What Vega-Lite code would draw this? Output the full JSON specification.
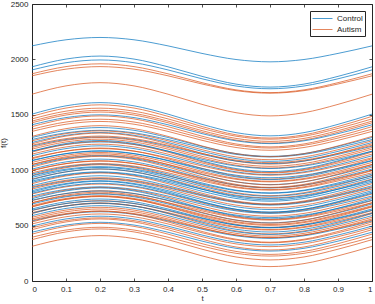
{
"$schema":"https://vega.github.io/schema/vega-lite/v6.json",
"width":340,"height":277,
"autosize":{"type":"none"},
"padding":{"left":32,"top":4,"right":3,"bottom":23},
"background":"white",
"config":{"view":{"stroke":"#262626","strokeWidth":1},"font":"Liberation Sans",
"axis":{"domain":false,"grid":false,"tickSize":-3,"tickColor":"#262626","tickWidth":0.8,"labelColor":"#262626","labelFontSize":8,"labelFont":"Liberation Sans","titleFont":"Liberation Sans","titleFontSize":8,"titleFontWeight":"normal","titleColor":"#262626"}},
"datasets":{
"curves":[{"i":1,"g":"Control"},{"i":2,"g":"Control"},{"i":3,"g":"Control"},{"i":4,"g":"Autism"},{"i":5,"g":"Autism"},{"i":6,"g":"Autism"},{"i":7,"g":"Control"},{"i":8,"g":"Autism"},{"i":9,"g":"Autism"},{"i":10,"g":"Autism"},{"i":11,"g":"Autism"},{"i":12,"g":"Control"},{"i":13,"g":"Autism"},{"i":14,"g":"Autism"},{"i":15,"g":"Autism"},{"i":16,"g":"Control"},{"i":17,"g":"Control"},{"i":18,"g":"Autism"},{"i":19,"g":"Control"},{"i":20,"g":"Autism"},{"i":21,"g":"Control"},{"i":22,"g":"Autism"},{"i":23,"g":"Autism"},{"i":24,"g":"Control"},{"i":25,"g":"Autism"},{"i":26,"g":"Autism"},{"i":27,"g":"Control"},{"i":28,"g":"Autism"},{"i":29,"g":"Autism"},{"i":30,"g":"Control"},{"i":31,"g":"Autism"},{"i":32,"g":"Autism"},{"i":33,"g":"Control"},{"i":34,"g":"Autism"},{"i":35,"g":"Control"},{"i":36,"g":"Autism"},{"i":37,"g":"Autism"},{"i":38,"g":"Control"},{"i":39,"g":"Autism"},{"i":40,"g":"Control"},{"i":41,"g":"Autism"},{"i":42,"g":"Control"},{"i":43,"g":"Control"},{"i":44,"g":"Autism"},{"i":45,"g":"Control"},{"i":46,"g":"Control"},{"i":47,"g":"Autism"},{"i":48,"g":"Control"},{"i":49,"g":"Control"},{"i":50,"g":"Autism"},{"i":51,"g":"Control"},{"i":52,"g":"Autism"},{"i":53,"g":"Control"},{"i":54,"g":"Autism"},{"i":55,"g":"Autism"},{"i":56,"g":"Control"},{"i":57,"g":"Autism"},{"i":58,"g":"Autism"},{"i":59,"g":"Control"},{"i":60,"g":"Autism"},{"i":61,"g":"Autism"},{"i":62,"g":"Autism"},{"i":63,"g":"Control"},{"i":64,"g":"Autism"},{"i":65,"g":"Autism"},{"i":66,"g":"Control"},{"i":67,"g":"Autism"},{"i":68,"g":"Autism"},{"i":69,"g":"Control"},{"i":70,"g":"Autism"},{"i":71,"g":"Autism"},{"i":72,"g":"Control"},{"i":73,"g":"Autism"},{"i":74,"g":"Autism"},{"i":75,"g":"Autism"},{"i":76,"g":"Autism"},{"i":77,"g":"Autism"},{"i":78,"g":"Control"},{"i":79,"g":"Control"},{"i":80,"g":"Autism"},{"i":81,"g":"Control"},{"i":82,"g":"Autism"},{"i":83,"g":"Control"},{"i":84,"g":"Control"},{"i":85,"g":"Autism"},{"i":86,"g":"Control"},{"i":87,"g":"Autism"},{"i":88,"g":"Autism"},{"i":89,"g":"Autism"},{"i":90,"g":"Control"},{"i":91,"g":"Autism"},{"i":92,"g":"Control"}],
"points":[
{"i":1,"t":0,"y":2122},{"i":1,"t":0.1,"y":2177},{"i":1,"t":0.2,"y":2198},{"i":1,"t":0.3,"y":2177},{"i":1,"t":0.4,"y":2122},{"i":1,"t":0.5,"y":2054},{"i":1,"t":0.6,"y":1999},{"i":1,"t":0.7,"y":1978},{"i":1,"t":0.8,"y":1999},{"i":1,"t":0.9,"y":2054},{"i":1,"t":1,"y":2122},
{"i":2,"t":0,"y":1933},{"i":2,"t":0.1,"y":2003},{"i":2,"t":0.2,"y":2030},{"i":2,"t":0.3,"y":2003},{"i":2,"t":0.4,"y":1933},{"i":2,"t":0.5,"y":1847},{"i":2,"t":0.6,"y":1777},{"i":2,"t":0.7,"y":1750},{"i":2,"t":0.8,"y":1777},{"i":2,"t":0.9,"y":1847},{"i":2,"t":1,"y":1933},
{"i":3,"t":0,"y":1905},{"i":3,"t":0.1,"y":1970},{"i":3,"t":0.2,"y":1995},{"i":3,"t":0.3,"y":1970},{"i":3,"t":0.4,"y":1905},{"i":3,"t":0.5,"y":1825},{"i":3,"t":0.6,"y":1760},{"i":3,"t":0.7,"y":1735},{"i":3,"t":0.8,"y":1760},{"i":3,"t":0.9,"y":1825},{"i":3,"t":1,"y":1905},
{"i":4,"t":0,"y":1870},{"i":4,"t":0.1,"y":1935},{"i":4,"t":0.2,"y":1960},{"i":4,"t":0.3,"y":1935},{"i":4,"t":0.4,"y":1870},{"i":4,"t":0.5,"y":1790},{"i":4,"t":0.6,"y":1725},{"i":4,"t":0.7,"y":1700},{"i":4,"t":0.8,"y":1725},{"i":4,"t":0.9,"y":1790},{"i":4,"t":1,"y":1870},
{"i":5,"t":0,"y":1852},{"i":5,"t":0.1,"y":1912},{"i":5,"t":0.2,"y":1935},{"i":5,"t":0.3,"y":1912},{"i":5,"t":0.4,"y":1852},{"i":5,"t":0.5,"y":1778},{"i":5,"t":0.6,"y":1718},{"i":5,"t":0.7,"y":1695},{"i":5,"t":0.8,"y":1718},{"i":5,"t":0.9,"y":1778},{"i":5,"t":1,"y":1852},
{"i":6,"t":0,"y":1686},{"i":6,"t":0.1,"y":1761},{"i":6,"t":0.2,"y":1790},{"i":6,"t":0.3,"y":1761},{"i":6,"t":0.4,"y":1686},{"i":6,"t":0.5,"y":1594},{"i":6,"t":0.6,"y":1519},{"i":6,"t":0.7,"y":1490},{"i":6,"t":0.8,"y":1519},{"i":6,"t":0.9,"y":1594},{"i":6,"t":1,"y":1686},
{"i":7,"t":0,"y":1506},{"i":7,"t":0.1,"y":1581},{"i":7,"t":0.2,"y":1610},{"i":7,"t":0.3,"y":1581},{"i":7,"t":0.4,"y":1506},{"i":7,"t":0.5,"y":1414},{"i":7,"t":0.6,"y":1339},{"i":7,"t":0.7,"y":1310},{"i":7,"t":0.8,"y":1339},{"i":7,"t":0.9,"y":1414},{"i":7,"t":1,"y":1506},
{"i":8,"t":0,"y":1486},{"i":8,"t":0.1,"y":1561},{"i":8,"t":0.2,"y":1590},{"i":8,"t":0.3,"y":1561},{"i":8,"t":0.4,"y":1486},{"i":8,"t":0.5,"y":1394},{"i":8,"t":0.6,"y":1319},{"i":8,"t":0.7,"y":1290},{"i":8,"t":0.8,"y":1319},{"i":8,"t":0.9,"y":1394},{"i":8,"t":1,"y":1486},
{"i":9,"t":0,"y":1463},{"i":9,"t":0.1,"y":1533},{"i":9,"t":0.2,"y":1560},{"i":9,"t":0.3,"y":1533},{"i":9,"t":0.4,"y":1463},{"i":9,"t":0.5,"y":1377},{"i":9,"t":0.6,"y":1307},{"i":9,"t":0.7,"y":1280},{"i":9,"t":0.8,"y":1307},{"i":9,"t":0.9,"y":1377},{"i":9,"t":1,"y":1463},
{"i":10,"t":0,"y":1443},{"i":10,"t":0.1,"y":1513},{"i":10,"t":0.2,"y":1540},{"i":10,"t":0.3,"y":1513},{"i":10,"t":0.4,"y":1443},{"i":10,"t":0.5,"y":1357},{"i":10,"t":0.6,"y":1287},{"i":10,"t":0.7,"y":1260},{"i":10,"t":0.8,"y":1287},{"i":10,"t":0.9,"y":1357},{"i":10,"t":1,"y":1443},
{"i":11,"t":0,"y":1428},{"i":11,"t":0.1,"y":1498},{"i":11,"t":0.2,"y":1525},{"i":11,"t":0.3,"y":1498},{"i":11,"t":0.4,"y":1428},{"i":11,"t":0.5,"y":1342},{"i":11,"t":0.6,"y":1272},{"i":11,"t":0.7,"y":1245},{"i":11,"t":0.8,"y":1272},{"i":11,"t":0.9,"y":1342},{"i":11,"t":1,"y":1428},
{"i":12,"t":0,"y":1410},{"i":12,"t":0.1,"y":1475},{"i":12,"t":0.2,"y":1500},{"i":12,"t":0.3,"y":1475},{"i":12,"t":0.4,"y":1410},{"i":12,"t":0.5,"y":1330},{"i":12,"t":0.6,"y":1265},{"i":12,"t":0.7,"y":1240},{"i":12,"t":0.8,"y":1265},{"i":12,"t":0.9,"y":1330},{"i":12,"t":1,"y":1410},
{"i":13,"t":0,"y":1393},{"i":13,"t":0.1,"y":1463},{"i":13,"t":0.2,"y":1490},{"i":13,"t":0.3,"y":1463},{"i":13,"t":0.4,"y":1393},{"i":13,"t":0.5,"y":1307},{"i":13,"t":0.6,"y":1237},{"i":13,"t":0.7,"y":1210},{"i":13,"t":0.8,"y":1237},{"i":13,"t":0.9,"y":1307},{"i":13,"t":1,"y":1393},
{"i":14,"t":0,"y":1370},{"i":14,"t":0.1,"y":1435},{"i":14,"t":0.2,"y":1460},{"i":14,"t":0.3,"y":1435},{"i":14,"t":0.4,"y":1370},{"i":14,"t":0.5,"y":1290},{"i":14,"t":0.6,"y":1225},{"i":14,"t":0.7,"y":1200},{"i":14,"t":0.8,"y":1225},{"i":14,"t":0.9,"y":1290},{"i":14,"t":1,"y":1370},
{"i":15,"t":0,"y":1350},{"i":15,"t":0.1,"y":1415},{"i":15,"t":0.2,"y":1440},{"i":15,"t":0.3,"y":1415},{"i":15,"t":0.4,"y":1350},{"i":15,"t":0.5,"y":1270},{"i":15,"t":0.6,"y":1205},{"i":15,"t":0.7,"y":1180},{"i":15,"t":0.8,"y":1205},{"i":15,"t":0.9,"y":1270},{"i":15,"t":1,"y":1350},
{"i":16,"t":0,"y":1295},{"i":16,"t":0.1,"y":1360},{"i":16,"t":0.2,"y":1385},{"i":16,"t":0.3,"y":1360},{"i":16,"t":0.4,"y":1295},{"i":16,"t":0.5,"y":1215},{"i":16,"t":0.6,"y":1150},{"i":16,"t":0.7,"y":1125},{"i":16,"t":0.8,"y":1150},{"i":16,"t":0.9,"y":1215},{"i":16,"t":1,"y":1295},
{"i":17,"t":0,"y":1277},{"i":17,"t":0.1,"y":1337},{"i":17,"t":0.2,"y":1360},{"i":17,"t":0.3,"y":1337},{"i":17,"t":0.4,"y":1277},{"i":17,"t":0.5,"y":1203},{"i":17,"t":0.6,"y":1143},{"i":17,"t":0.7,"y":1120},{"i":17,"t":0.8,"y":1143},{"i":17,"t":0.9,"y":1203},{"i":17,"t":1,"y":1277},
{"i":18,"t":0,"y":1265},{"i":18,"t":0.1,"y":1330},{"i":18,"t":0.2,"y":1355},{"i":18,"t":0.3,"y":1330},{"i":18,"t":0.4,"y":1265},{"i":18,"t":0.5,"y":1185},{"i":18,"t":0.6,"y":1120},{"i":18,"t":0.7,"y":1095},{"i":18,"t":0.8,"y":1120},{"i":18,"t":0.9,"y":1185},{"i":18,"t":1,"y":1265},
{"i":19,"t":0,"y":1250},{"i":19,"t":0.1,"y":1315},{"i":19,"t":0.2,"y":1340},{"i":19,"t":0.3,"y":1315},{"i":19,"t":0.4,"y":1250},{"i":19,"t":0.5,"y":1170},{"i":19,"t":0.6,"y":1105},{"i":19,"t":0.7,"y":1080},{"i":19,"t":0.8,"y":1105},{"i":19,"t":0.9,"y":1170},{"i":19,"t":1,"y":1250},
{"i":20,"t":0,"y":1238},{"i":20,"t":0.1,"y":1308},{"i":20,"t":0.2,"y":1335},{"i":20,"t":0.3,"y":1308},{"i":20,"t":0.4,"y":1238},{"i":20,"t":0.5,"y":1152},{"i":20,"t":0.6,"y":1082},{"i":20,"t":0.7,"y":1055},{"i":20,"t":0.8,"y":1082},{"i":20,"t":0.9,"y":1152},{"i":20,"t":1,"y":1238},
{"i":21,"t":0,"y":1217},{"i":21,"t":0.1,"y":1277},{"i":21,"t":0.2,"y":1300},{"i":21,"t":0.3,"y":1277},{"i":21,"t":0.4,"y":1217},{"i":21,"t":0.5,"y":1143},{"i":21,"t":0.6,"y":1083},{"i":21,"t":0.7,"y":1060},{"i":21,"t":0.8,"y":1083},{"i":21,"t":0.9,"y":1143},{"i":21,"t":1,"y":1217},
{"i":22,"t":0,"y":1205},{"i":22,"t":0.1,"y":1270},{"i":22,"t":0.2,"y":1295},{"i":22,"t":0.3,"y":1270},{"i":22,"t":0.4,"y":1205},{"i":22,"t":0.5,"y":1125},{"i":22,"t":0.6,"y":1060},{"i":22,"t":0.7,"y":1035},{"i":22,"t":0.8,"y":1060},{"i":22,"t":0.9,"y":1125},{"i":22,"t":1,"y":1205},
{"i":23,"t":0,"y":1190},{"i":23,"t":0.1,"y":1255},{"i":23,"t":0.2,"y":1280},{"i":23,"t":0.3,"y":1255},{"i":23,"t":0.4,"y":1190},{"i":23,"t":0.5,"y":1110},{"i":23,"t":0.6,"y":1045},{"i":23,"t":0.7,"y":1020},{"i":23,"t":0.8,"y":1045},{"i":23,"t":0.9,"y":1110},{"i":23,"t":1,"y":1190},
{"i":24,"t":0,"y":1172},{"i":24,"t":0.1,"y":1232},{"i":24,"t":0.2,"y":1255},{"i":24,"t":0.3,"y":1232},{"i":24,"t":0.4,"y":1172},{"i":24,"t":0.5,"y":1098},{"i":24,"t":0.6,"y":1038},{"i":24,"t":0.7,"y":1015},{"i":24,"t":0.8,"y":1038},{"i":24,"t":0.9,"y":1098},{"i":24,"t":1,"y":1172},
{"i":25,"t":0,"y":1163},{"i":25,"t":0.1,"y":1233},{"i":25,"t":0.2,"y":1260},{"i":25,"t":0.3,"y":1233},{"i":25,"t":0.4,"y":1163},{"i":25,"t":0.5,"y":1077},{"i":25,"t":0.6,"y":1007},{"i":25,"t":0.7,"y":980},{"i":25,"t":0.8,"y":1007},{"i":25,"t":0.9,"y":1077},{"i":25,"t":1,"y":1163},
{"i":26,"t":0,"y":1145},{"i":26,"t":0.1,"y":1210},{"i":26,"t":0.2,"y":1235},{"i":26,"t":0.3,"y":1210},{"i":26,"t":0.4,"y":1145},{"i":26,"t":0.5,"y":1065},{"i":26,"t":0.6,"y":1000},{"i":26,"t":0.7,"y":975},{"i":26,"t":0.8,"y":1000},{"i":26,"t":0.9,"y":1065},{"i":26,"t":1,"y":1145},
{"i":27,"t":0,"y":1130},{"i":27,"t":0.1,"y":1195},{"i":27,"t":0.2,"y":1220},{"i":27,"t":0.3,"y":1195},{"i":27,"t":0.4,"y":1130},{"i":27,"t":0.5,"y":1050},{"i":27,"t":0.6,"y":985},{"i":27,"t":0.7,"y":960},{"i":27,"t":0.8,"y":985},{"i":27,"t":0.9,"y":1050},{"i":27,"t":1,"y":1130},
{"i":28,"t":0,"y":1112},{"i":28,"t":0.1,"y":1172},{"i":28,"t":0.2,"y":1195},{"i":28,"t":0.3,"y":1172},{"i":28,"t":0.4,"y":1112},{"i":28,"t":0.5,"y":1038},{"i":28,"t":0.6,"y":978},{"i":28,"t":0.7,"y":955},{"i":28,"t":0.8,"y":978},{"i":28,"t":0.9,"y":1038},{"i":28,"t":1,"y":1112},
{"i":29,"t":0,"y":1103},{"i":29,"t":0.1,"y":1173},{"i":29,"t":0.2,"y":1200},{"i":29,"t":0.3,"y":1173},{"i":29,"t":0.4,"y":1103},{"i":29,"t":0.5,"y":1017},{"i":29,"t":0.6,"y":947},{"i":29,"t":0.7,"y":920},{"i":29,"t":0.8,"y":947},{"i":29,"t":0.9,"y":1017},{"i":29,"t":1,"y":1103},
{"i":30,"t":0,"y":1085},{"i":30,"t":0.1,"y":1150},{"i":30,"t":0.2,"y":1175},{"i":30,"t":0.3,"y":1150},{"i":30,"t":0.4,"y":1085},{"i":30,"t":0.5,"y":1005},{"i":30,"t":0.6,"y":940},{"i":30,"t":0.7,"y":915},{"i":30,"t":0.8,"y":940},{"i":30,"t":0.9,"y":1005},{"i":30,"t":1,"y":1085},
{"i":31,"t":0,"y":1070},{"i":31,"t":0.1,"y":1135},{"i":31,"t":0.2,"y":1160},{"i":31,"t":0.3,"y":1135},{"i":31,"t":0.4,"y":1070},{"i":31,"t":0.5,"y":990},{"i":31,"t":0.6,"y":925},{"i":31,"t":0.7,"y":900},{"i":31,"t":0.8,"y":925},{"i":31,"t":0.9,"y":990},{"i":31,"t":1,"y":1070},
{"i":32,"t":0,"y":1052},{"i":32,"t":0.1,"y":1112},{"i":32,"t":0.2,"y":1135},{"i":32,"t":0.3,"y":1112},{"i":32,"t":0.4,"y":1052},{"i":32,"t":0.5,"y":978},{"i":32,"t":0.6,"y":918},{"i":32,"t":0.7,"y":895},{"i":32,"t":0.8,"y":918},{"i":32,"t":0.9,"y":978},{"i":32,"t":1,"y":1052},
{"i":33,"t":0,"y":1040},{"i":33,"t":0.1,"y":1105},{"i":33,"t":0.2,"y":1130},{"i":33,"t":0.3,"y":1105},{"i":33,"t":0.4,"y":1040},{"i":33,"t":0.5,"y":960},{"i":33,"t":0.6,"y":895},{"i":33,"t":0.7,"y":870},{"i":33,"t":0.8,"y":895},{"i":33,"t":0.9,"y":960},{"i":33,"t":1,"y":1040},
{"i":34,"t":0,"y":1028},{"i":34,"t":0.1,"y":1098},{"i":34,"t":0.2,"y":1125},{"i":34,"t":0.3,"y":1098},{"i":34,"t":0.4,"y":1028},{"i":34,"t":0.5,"y":942},{"i":34,"t":0.6,"y":872},{"i":34,"t":0.7,"y":845},{"i":34,"t":0.8,"y":872},{"i":34,"t":0.9,"y":942},{"i":34,"t":1,"y":1028},
{"i":35,"t":0,"y":1010},{"i":35,"t":0.1,"y":1075},{"i":35,"t":0.2,"y":1100},{"i":35,"t":0.3,"y":1075},{"i":35,"t":0.4,"y":1010},{"i":35,"t":0.5,"y":930},{"i":35,"t":0.6,"y":865},{"i":35,"t":0.7,"y":840},{"i":35,"t":0.8,"y":865},{"i":35,"t":0.9,"y":930},{"i":35,"t":1,"y":1010},
{"i":36,"t":0,"y":995},{"i":36,"t":0.1,"y":1060},{"i":36,"t":0.2,"y":1085},{"i":36,"t":0.3,"y":1060},{"i":36,"t":0.4,"y":995},{"i":36,"t":0.5,"y":915},{"i":36,"t":0.6,"y":850},{"i":36,"t":0.7,"y":825},{"i":36,"t":0.8,"y":850},{"i":36,"t":0.9,"y":915},{"i":36,"t":1,"y":995},
{"i":37,"t":0,"y":977},{"i":37,"t":0.1,"y":1037},{"i":37,"t":0.2,"y":1060},{"i":37,"t":0.3,"y":1037},{"i":37,"t":0.4,"y":977},{"i":37,"t":0.5,"y":903},{"i":37,"t":0.6,"y":843},{"i":37,"t":0.7,"y":820},{"i":37,"t":0.8,"y":843},{"i":37,"t":0.9,"y":903},{"i":37,"t":1,"y":977},
{"i":38,"t":0,"y":965},{"i":38,"t":0.1,"y":1030},{"i":38,"t":0.2,"y":1055},{"i":38,"t":0.3,"y":1030},{"i":38,"t":0.4,"y":965},{"i":38,"t":0.5,"y":885},{"i":38,"t":0.6,"y":820},{"i":38,"t":0.7,"y":795},{"i":38,"t":0.8,"y":820},{"i":38,"t":0.9,"y":885},{"i":38,"t":1,"y":965},
{"i":39,"t":0,"y":953},{"i":39,"t":0.1,"y":1023},{"i":39,"t":0.2,"y":1050},{"i":39,"t":0.3,"y":1023},{"i":39,"t":0.4,"y":953},{"i":39,"t":0.5,"y":867},{"i":39,"t":0.6,"y":797},{"i":39,"t":0.7,"y":770},{"i":39,"t":0.8,"y":797},{"i":39,"t":0.9,"y":867},{"i":39,"t":1,"y":953},
{"i":40,"t":0,"y":935},{"i":40,"t":0.1,"y":1000},{"i":40,"t":0.2,"y":1025},{"i":40,"t":0.3,"y":1000},{"i":40,"t":0.4,"y":935},{"i":40,"t":0.5,"y":855},{"i":40,"t":0.6,"y":790},{"i":40,"t":0.7,"y":765},{"i":40,"t":0.8,"y":790},{"i":40,"t":0.9,"y":855},{"i":40,"t":1,"y":935},
{"i":41,"t":0,"y":920},{"i":41,"t":0.1,"y":985},{"i":41,"t":0.2,"y":1010},{"i":41,"t":0.3,"y":985},{"i":41,"t":0.4,"y":920},{"i":41,"t":0.5,"y":840},{"i":41,"t":0.6,"y":775},{"i":41,"t":0.7,"y":750},{"i":41,"t":0.8,"y":775},{"i":41,"t":0.9,"y":840},{"i":41,"t":1,"y":920},
{"i":42,"t":0,"y":902},{"i":42,"t":0.1,"y":962},{"i":42,"t":0.2,"y":985},{"i":42,"t":0.3,"y":962},{"i":42,"t":0.4,"y":902},{"i":42,"t":0.5,"y":828},{"i":42,"t":0.6,"y":768},{"i":42,"t":0.7,"y":745},{"i":42,"t":0.8,"y":768},{"i":42,"t":0.9,"y":828},{"i":42,"t":1,"y":902},
{"i":43,"t":0,"y":890},{"i":43,"t":0.1,"y":955},{"i":43,"t":0.2,"y":980},{"i":43,"t":0.3,"y":955},{"i":43,"t":0.4,"y":890},{"i":43,"t":0.5,"y":810},{"i":43,"t":0.6,"y":745},{"i":43,"t":0.7,"y":720},{"i":43,"t":0.8,"y":745},{"i":43,"t":0.9,"y":810},{"i":43,"t":1,"y":890},
{"i":44,"t":0,"y":878},{"i":44,"t":0.1,"y":948},{"i":44,"t":0.2,"y":975},{"i":44,"t":0.3,"y":948},{"i":44,"t":0.4,"y":878},{"i":44,"t":0.5,"y":792},{"i":44,"t":0.6,"y":722},{"i":44,"t":0.7,"y":695},{"i":44,"t":0.8,"y":722},{"i":44,"t":0.9,"y":792},{"i":44,"t":1,"y":878},
{"i":45,"t":0,"y":860},{"i":45,"t":0.1,"y":925},{"i":45,"t":0.2,"y":950},{"i":45,"t":0.3,"y":925},{"i":45,"t":0.4,"y":860},{"i":45,"t":0.5,"y":780},{"i":45,"t":0.6,"y":715},{"i":45,"t":0.7,"y":690},{"i":45,"t":0.8,"y":715},{"i":45,"t":0.9,"y":780},{"i":45,"t":1,"y":860},
{"i":46,"t":0,"y":842},{"i":46,"t":0.1,"y":902},{"i":46,"t":0.2,"y":925},{"i":46,"t":0.3,"y":902},{"i":46,"t":0.4,"y":842},{"i":46,"t":0.5,"y":768},{"i":46,"t":0.6,"y":708},{"i":46,"t":0.7,"y":685},{"i":46,"t":0.8,"y":708},{"i":46,"t":0.9,"y":768},{"i":46,"t":1,"y":842},
{"i":47,"t":0,"y":830},{"i":47,"t":0.1,"y":895},{"i":47,"t":0.2,"y":920},{"i":47,"t":0.3,"y":895},{"i":47,"t":0.4,"y":830},{"i":47,"t":0.5,"y":750},{"i":47,"t":0.6,"y":685},{"i":47,"t":0.7,"y":660},{"i":47,"t":0.8,"y":685},{"i":47,"t":0.9,"y":750},{"i":47,"t":1,"y":830},
{"i":48,"t":0,"y":815},{"i":48,"t":0.1,"y":880},{"i":48,"t":0.2,"y":905},{"i":48,"t":0.3,"y":880},{"i":48,"t":0.4,"y":815},{"i":48,"t":0.5,"y":735},{"i":48,"t":0.6,"y":670},{"i":48,"t":0.7,"y":645},{"i":48,"t":0.8,"y":670},{"i":48,"t":0.9,"y":735},{"i":48,"t":1,"y":815},
{"i":49,"t":0,"y":803},{"i":49,"t":0.1,"y":873},{"i":49,"t":0.2,"y":900},{"i":49,"t":0.3,"y":873},{"i":49,"t":0.4,"y":803},{"i":49,"t":0.5,"y":717},{"i":49,"t":0.6,"y":647},{"i":49,"t":0.7,"y":620},{"i":49,"t":0.8,"y":647},{"i":49,"t":0.9,"y":717},{"i":49,"t":1,"y":803},
{"i":50,"t":0,"y":785},{"i":50,"t":0.1,"y":850},{"i":50,"t":0.2,"y":875},{"i":50,"t":0.3,"y":850},{"i":50,"t":0.4,"y":785},{"i":50,"t":0.5,"y":705},{"i":50,"t":0.6,"y":640},{"i":50,"t":0.7,"y":615},{"i":50,"t":0.8,"y":640},{"i":50,"t":0.9,"y":705},{"i":50,"t":1,"y":785},
{"i":51,"t":0,"y":767},{"i":51,"t":0.1,"y":827},{"i":51,"t":0.2,"y":850},{"i":51,"t":0.3,"y":827},{"i":51,"t":0.4,"y":767},{"i":51,"t":0.5,"y":693},{"i":51,"t":0.6,"y":633},{"i":51,"t":0.7,"y":610},{"i":51,"t":0.8,"y":633},{"i":51,"t":0.9,"y":693},{"i":51,"t":1,"y":767},
{"i":52,"t":0,"y":755},{"i":52,"t":0.1,"y":820},{"i":52,"t":0.2,"y":845},{"i":52,"t":0.3,"y":820},{"i":52,"t":0.4,"y":755},{"i":52,"t":0.5,"y":675},{"i":52,"t":0.6,"y":610},{"i":52,"t":0.7,"y":585},{"i":52,"t":0.8,"y":610},{"i":52,"t":0.9,"y":675},{"i":52,"t":1,"y":755},
{"i":53,"t":0,"y":743},{"i":53,"t":0.1,"y":813},{"i":53,"t":0.2,"y":840},{"i":53,"t":0.3,"y":813},{"i":53,"t":0.4,"y":743},{"i":53,"t":0.5,"y":657},{"i":53,"t":0.6,"y":587},{"i":53,"t":0.7,"y":560},{"i":53,"t":0.8,"y":587},{"i":53,"t":0.9,"y":657},{"i":53,"t":1,"y":743},
{"i":54,"t":0,"y":725},{"i":54,"t":0.1,"y":790},{"i":54,"t":0.2,"y":815},{"i":54,"t":0.3,"y":790},{"i":54,"t":0.4,"y":725},{"i":54,"t":0.5,"y":645},{"i":54,"t":0.6,"y":580},{"i":54,"t":0.7,"y":555},{"i":54,"t":0.8,"y":580},{"i":54,"t":0.9,"y":645},{"i":54,"t":1,"y":725},
{"i":55,"t":0,"y":707},{"i":55,"t":0.1,"y":767},{"i":55,"t":0.2,"y":790},{"i":55,"t":0.3,"y":767},{"i":55,"t":0.4,"y":707},{"i":55,"t":0.5,"y":633},{"i":55,"t":0.6,"y":573},{"i":55,"t":0.7,"y":550},{"i":55,"t":0.8,"y":573},{"i":55,"t":0.9,"y":633},{"i":55,"t":1,"y":707},
{"i":56,"t":0,"y":695},{"i":56,"t":0.1,"y":760},{"i":56,"t":0.2,"y":785},{"i":56,"t":0.3,"y":760},{"i":56,"t":0.4,"y":695},{"i":56,"t":0.5,"y":615},{"i":56,"t":0.6,"y":550},{"i":56,"t":0.7,"y":525},{"i":56,"t":0.8,"y":550},{"i":56,"t":0.9,"y":615},{"i":56,"t":1,"y":695},
{"i":57,"t":0,"y":680},{"i":57,"t":0.1,"y":745},{"i":57,"t":0.2,"y":770},{"i":57,"t":0.3,"y":745},{"i":57,"t":0.4,"y":680},{"i":57,"t":0.5,"y":600},{"i":57,"t":0.6,"y":535},{"i":57,"t":0.7,"y":510},{"i":57,"t":0.8,"y":535},{"i":57,"t":0.9,"y":600},{"i":57,"t":1,"y":680},
{"i":58,"t":0,"y":668},{"i":58,"t":0.1,"y":738},{"i":58,"t":0.2,"y":765},{"i":58,"t":0.3,"y":738},{"i":58,"t":0.4,"y":668},{"i":58,"t":0.5,"y":582},{"i":58,"t":0.6,"y":512},{"i":58,"t":0.7,"y":485},{"i":58,"t":0.8,"y":512},{"i":58,"t":0.9,"y":582},{"i":58,"t":1,"y":668},
{"i":59,"t":0,"y":650},{"i":59,"t":0.1,"y":715},{"i":59,"t":0.2,"y":740},{"i":59,"t":0.3,"y":715},{"i":59,"t":0.4,"y":650},{"i":59,"t":0.5,"y":570},{"i":59,"t":0.6,"y":505},{"i":59,"t":0.7,"y":480},{"i":59,"t":0.8,"y":505},{"i":59,"t":0.9,"y":570},{"i":59,"t":1,"y":650},
{"i":60,"t":0,"y":635},{"i":60,"t":0.1,"y":700},{"i":60,"t":0.2,"y":725},{"i":60,"t":0.3,"y":700},{"i":60,"t":0.4,"y":635},{"i":60,"t":0.5,"y":555},{"i":60,"t":0.6,"y":490},{"i":60,"t":0.7,"y":465},{"i":60,"t":0.8,"y":490},{"i":60,"t":0.9,"y":555},{"i":60,"t":1,"y":635},
{"i":61,"t":0,"y":617},{"i":61,"t":0.1,"y":677},{"i":61,"t":0.2,"y":700},{"i":61,"t":0.3,"y":677},{"i":61,"t":0.4,"y":617},{"i":61,"t":0.5,"y":543},{"i":61,"t":0.6,"y":483},{"i":61,"t":0.7,"y":460},{"i":61,"t":0.8,"y":483},{"i":61,"t":0.9,"y":543},{"i":61,"t":1,"y":617},
{"i":62,"t":0,"y":608},{"i":62,"t":0.1,"y":678},{"i":62,"t":0.2,"y":705},{"i":62,"t":0.3,"y":678},{"i":62,"t":0.4,"y":608},{"i":62,"t":0.5,"y":522},{"i":62,"t":0.6,"y":452},{"i":62,"t":0.7,"y":425},{"i":62,"t":0.8,"y":452},{"i":62,"t":0.9,"y":522},{"i":62,"t":1,"y":608},
{"i":63,"t":0,"y":590},{"i":63,"t":0.1,"y":655},{"i":63,"t":0.2,"y":680},{"i":63,"t":0.3,"y":655},{"i":63,"t":0.4,"y":590},{"i":63,"t":0.5,"y":510},{"i":63,"t":0.6,"y":445},{"i":63,"t":0.7,"y":420},{"i":63,"t":0.8,"y":445},{"i":63,"t":0.9,"y":510},{"i":63,"t":1,"y":590},
{"i":64,"t":0,"y":575},{"i":64,"t":0.1,"y":640},{"i":64,"t":0.2,"y":665},{"i":64,"t":0.3,"y":640},{"i":64,"t":0.4,"y":575},{"i":64,"t":0.5,"y":495},{"i":64,"t":0.6,"y":430},{"i":64,"t":0.7,"y":405},{"i":64,"t":0.8,"y":430},{"i":64,"t":0.9,"y":495},{"i":64,"t":1,"y":575},
{"i":65,"t":0,"y":560},{"i":65,"t":0.1,"y":625},{"i":65,"t":0.2,"y":650},{"i":65,"t":0.3,"y":625},{"i":65,"t":0.4,"y":560},{"i":65,"t":0.5,"y":480},{"i":65,"t":0.6,"y":415},{"i":65,"t":0.7,"y":390},{"i":65,"t":0.8,"y":415},{"i":65,"t":0.9,"y":480},{"i":65,"t":1,"y":560},
{"i":66,"t":0,"y":542},{"i":66,"t":0.1,"y":602},{"i":66,"t":0.2,"y":625},{"i":66,"t":0.3,"y":602},{"i":66,"t":0.4,"y":542},{"i":66,"t":0.5,"y":468},{"i":66,"t":0.6,"y":408},{"i":66,"t":0.7,"y":385},{"i":66,"t":0.8,"y":408},{"i":66,"t":0.9,"y":468},{"i":66,"t":1,"y":542},
{"i":67,"t":0,"y":533},{"i":67,"t":0.1,"y":603},{"i":67,"t":0.2,"y":630},{"i":67,"t":0.3,"y":603},{"i":67,"t":0.4,"y":533},{"i":67,"t":0.5,"y":447},{"i":67,"t":0.6,"y":377},{"i":67,"t":0.7,"y":350},{"i":67,"t":0.8,"y":377},{"i":67,"t":0.9,"y":447},{"i":67,"t":1,"y":533},
{"i":68,"t":0,"y":515},{"i":68,"t":0.1,"y":580},{"i":68,"t":0.2,"y":605},{"i":68,"t":0.3,"y":580},{"i":68,"t":0.4,"y":515},{"i":68,"t":0.5,"y":435},{"i":68,"t":0.6,"y":370},{"i":68,"t":0.7,"y":345},{"i":68,"t":0.8,"y":370},{"i":68,"t":0.9,"y":435},{"i":68,"t":1,"y":515},
{"i":69,"t":0,"y":495},{"i":69,"t":0.1,"y":560},{"i":69,"t":0.2,"y":585},{"i":69,"t":0.3,"y":560},{"i":69,"t":0.4,"y":495},{"i":69,"t":0.5,"y":415},{"i":69,"t":0.6,"y":350},{"i":69,"t":0.7,"y":325},{"i":69,"t":0.8,"y":350},{"i":69,"t":0.9,"y":415},{"i":69,"t":1,"y":495},
{"i":70,"t":0,"y":480},{"i":70,"t":0.1,"y":545},{"i":70,"t":0.2,"y":570},{"i":70,"t":0.3,"y":545},{"i":70,"t":0.4,"y":480},{"i":70,"t":0.5,"y":400},{"i":70,"t":0.6,"y":335},{"i":70,"t":0.7,"y":310},{"i":70,"t":0.8,"y":335},{"i":70,"t":0.9,"y":400},{"i":70,"t":1,"y":480},
{"i":71,"t":0,"y":463},{"i":71,"t":0.1,"y":533},{"i":71,"t":0.2,"y":560},{"i":71,"t":0.3,"y":533},{"i":71,"t":0.4,"y":463},{"i":71,"t":0.5,"y":377},{"i":71,"t":0.6,"y":307},{"i":71,"t":0.7,"y":280},{"i":71,"t":0.8,"y":307},{"i":71,"t":0.9,"y":377},{"i":71,"t":1,"y":463},
{"i":72,"t":0,"y":440},{"i":72,"t":0.1,"y":505},{"i":72,"t":0.2,"y":530},{"i":72,"t":0.3,"y":505},{"i":72,"t":0.4,"y":440},{"i":72,"t":0.5,"y":360},{"i":72,"t":0.6,"y":295},{"i":72,"t":0.7,"y":270},{"i":72,"t":0.8,"y":295},{"i":72,"t":0.9,"y":360},{"i":72,"t":1,"y":440},
{"i":73,"t":0,"y":423},{"i":73,"t":0.1,"y":493},{"i":73,"t":0.2,"y":520},{"i":73,"t":0.3,"y":493},{"i":73,"t":0.4,"y":423},{"i":73,"t":0.5,"y":337},{"i":73,"t":0.6,"y":267},{"i":73,"t":0.7,"y":240},{"i":73,"t":0.8,"y":267},{"i":73,"t":0.9,"y":337},{"i":73,"t":1,"y":423},
{"i":74,"t":0,"y":395},{"i":74,"t":0.1,"y":460},{"i":74,"t":0.2,"y":485},{"i":74,"t":0.3,"y":460},{"i":74,"t":0.4,"y":395},{"i":74,"t":0.5,"y":315},{"i":74,"t":0.6,"y":250},{"i":74,"t":0.7,"y":225},{"i":74,"t":0.8,"y":250},{"i":74,"t":0.9,"y":315},{"i":74,"t":1,"y":395},
{"i":75,"t":0,"y":373},{"i":75,"t":0.1,"y":443},{"i":75,"t":0.2,"y":470},{"i":75,"t":0.3,"y":443},{"i":75,"t":0.4,"y":373},{"i":75,"t":0.5,"y":287},{"i":75,"t":0.6,"y":217},{"i":75,"t":0.7,"y":190},{"i":75,"t":0.8,"y":217},{"i":75,"t":0.9,"y":287},{"i":75,"t":1,"y":373},
{"i":76,"t":0,"y":313},{"i":76,"t":0.1,"y":383},{"i":76,"t":0.2,"y":410},{"i":76,"t":0.3,"y":383},{"i":76,"t":0.4,"y":313},{"i":76,"t":0.5,"y":227},{"i":76,"t":0.6,"y":157},{"i":76,"t":0.7,"y":130},{"i":76,"t":0.8,"y":157},{"i":76,"t":0.9,"y":227},{"i":76,"t":1,"y":313},
{"i":77,"t":0,"y":1305},{"i":77,"t":0.1,"y":1375},{"i":77,"t":0.2,"y":1402},{"i":77,"t":0.3,"y":1375},{"i":77,"t":0.4,"y":1305},{"i":77,"t":0.5,"y":1219},{"i":77,"t":0.6,"y":1149},{"i":77,"t":0.7,"y":1122},{"i":77,"t":0.8,"y":1149},{"i":77,"t":0.9,"y":1219},{"i":77,"t":1,"y":1305},
{"i":78,"t":0,"y":1171},{"i":78,"t":0.1,"y":1241},{"i":78,"t":0.2,"y":1268},{"i":78,"t":0.3,"y":1241},{"i":78,"t":0.4,"y":1171},{"i":78,"t":0.5,"y":1085},{"i":78,"t":0.6,"y":1015},{"i":78,"t":0.7,"y":988},{"i":78,"t":0.8,"y":1015},{"i":78,"t":0.9,"y":1085},{"i":78,"t":1,"y":1171},
{"i":79,"t":0,"y":1089},{"i":79,"t":0.1,"y":1149},{"i":79,"t":0.2,"y":1172},{"i":79,"t":0.3,"y":1149},{"i":79,"t":0.4,"y":1089},{"i":79,"t":0.5,"y":1015},{"i":79,"t":0.6,"y":955},{"i":79,"t":0.7,"y":932},{"i":79,"t":0.8,"y":955},{"i":79,"t":0.9,"y":1015},{"i":79,"t":1,"y":1089},
{"i":80,"t":0,"y":999},{"i":80,"t":0.1,"y":1059},{"i":80,"t":0.2,"y":1082},{"i":80,"t":0.3,"y":1059},{"i":80,"t":0.4,"y":999},{"i":80,"t":0.5,"y":925},{"i":80,"t":0.6,"y":865},{"i":80,"t":0.7,"y":842},{"i":80,"t":0.8,"y":865},{"i":80,"t":0.9,"y":925},{"i":80,"t":1,"y":999},
{"i":81,"t":0,"y":915},{"i":81,"t":0.1,"y":985},{"i":81,"t":0.2,"y":1012},{"i":81,"t":0.3,"y":985},{"i":81,"t":0.4,"y":915},{"i":81,"t":0.5,"y":829},{"i":81,"t":0.6,"y":759},{"i":81,"t":0.7,"y":732},{"i":81,"t":0.8,"y":759},{"i":81,"t":0.9,"y":829},{"i":81,"t":1,"y":915},
{"i":82,"t":0,"y":849},{"i":82,"t":0.1,"y":909},{"i":82,"t":0.2,"y":932},{"i":82,"t":0.3,"y":909},{"i":82,"t":0.4,"y":849},{"i":82,"t":0.5,"y":775},{"i":82,"t":0.6,"y":715},{"i":82,"t":0.7,"y":692},{"i":82,"t":0.8,"y":715},{"i":82,"t":0.9,"y":775},{"i":82,"t":1,"y":849},
{"i":83,"t":0,"y":792},{"i":83,"t":0.1,"y":857},{"i":83,"t":0.2,"y":882},{"i":83,"t":0.3,"y":857},{"i":83,"t":0.4,"y":792},{"i":83,"t":0.5,"y":712},{"i":83,"t":0.6,"y":647},{"i":83,"t":0.7,"y":622},{"i":83,"t":0.8,"y":647},{"i":83,"t":0.9,"y":712},{"i":83,"t":1,"y":792},
{"i":84,"t":0,"y":729},{"i":84,"t":0.1,"y":789},{"i":84,"t":0.2,"y":812},{"i":84,"t":0.3,"y":789},{"i":84,"t":0.4,"y":729},{"i":84,"t":0.5,"y":655},{"i":84,"t":0.6,"y":595},{"i":84,"t":0.7,"y":572},{"i":84,"t":0.8,"y":595},{"i":84,"t":0.9,"y":655},{"i":84,"t":1,"y":729},
{"i":85,"t":0,"y":672},{"i":85,"t":0.1,"y":737},{"i":85,"t":0.2,"y":762},{"i":85,"t":0.3,"y":737},{"i":85,"t":0.4,"y":672},{"i":85,"t":0.5,"y":592},{"i":85,"t":0.6,"y":527},{"i":85,"t":0.7,"y":502},{"i":85,"t":0.8,"y":527},{"i":85,"t":0.9,"y":592},{"i":85,"t":1,"y":672},
{"i":86,"t":0,"y":612},{"i":86,"t":0.1,"y":677},{"i":86,"t":0.2,"y":702},{"i":86,"t":0.3,"y":677},{"i":86,"t":0.4,"y":612},{"i":86,"t":0.5,"y":532},{"i":86,"t":0.6,"y":467},{"i":86,"t":0.7,"y":442},{"i":86,"t":0.8,"y":467},{"i":86,"t":0.9,"y":532},{"i":86,"t":1,"y":612},
{"i":87,"t":0,"y":549},{"i":87,"t":0.1,"y":609},{"i":87,"t":0.2,"y":632},{"i":87,"t":0.3,"y":609},{"i":87,"t":0.4,"y":549},{"i":87,"t":0.5,"y":475},{"i":87,"t":0.6,"y":415},{"i":87,"t":0.7,"y":392},{"i":87,"t":0.8,"y":415},{"i":87,"t":0.9,"y":475},{"i":87,"t":1,"y":549},
{"i":88,"t":0,"y":1225},{"i":88,"t":0.1,"y":1285},{"i":88,"t":0.2,"y":1308},{"i":88,"t":0.3,"y":1285},{"i":88,"t":0.4,"y":1225},{"i":88,"t":0.5,"y":1151},{"i":88,"t":0.6,"y":1091},{"i":88,"t":0.7,"y":1068},{"i":88,"t":0.8,"y":1091},{"i":88,"t":0.9,"y":1151},{"i":88,"t":1,"y":1225},
{"i":89,"t":0,"y":1051},{"i":89,"t":0.1,"y":1121},{"i":89,"t":0.2,"y":1148},{"i":89,"t":0.3,"y":1121},{"i":89,"t":0.4,"y":1051},{"i":89,"t":0.5,"y":965},{"i":89,"t":0.6,"y":895},{"i":89,"t":0.7,"y":868},{"i":89,"t":0.8,"y":895},{"i":89,"t":0.9,"y":965},{"i":89,"t":1,"y":1051},
{"i":90,"t":0,"y":949},{"i":90,"t":0.1,"y":1009},{"i":90,"t":0.2,"y":1032},{"i":90,"t":0.3,"y":1009},{"i":90,"t":0.4,"y":949},{"i":90,"t":0.5,"y":875},{"i":90,"t":0.6,"y":815},{"i":90,"t":0.7,"y":792},{"i":90,"t":0.8,"y":815},{"i":90,"t":0.9,"y":875},{"i":90,"t":1,"y":949},
{"i":91,"t":0,"y":705},{"i":91,"t":0.1,"y":775},{"i":91,"t":0.2,"y":802},{"i":91,"t":0.3,"y":775},{"i":91,"t":0.4,"y":705},{"i":91,"t":0.5,"y":619},{"i":91,"t":0.6,"y":549},{"i":91,"t":0.7,"y":522},{"i":91,"t":0.8,"y":549},{"i":91,"t":0.9,"y":619},{"i":91,"t":1,"y":705},
{"i":92,"t":0,"y":639},{"i":92,"t":0.1,"y":699},{"i":92,"t":0.2,"y":722},{"i":92,"t":0.3,"y":699},{"i":92,"t":0.4,"y":639},{"i":92,"t":0.5,"y":565},{"i":92,"t":0.6,"y":505},{"i":92,"t":0.7,"y":482},{"i":92,"t":0.8,"y":505},{"i":92,"t":0.9,"y":565},{"i":92,"t":1,"y":639}
]},
"data":{"name":"points"},
"transform":[{"lookup":"i","from":{"data":{"name":"curves"},"key":"i","fields":["g"]}}],
"layer":[
{"mark":{"type":"line","strokeWidth":1,"opacity":0.7,"interpolate":"monotone"},
"encoding":{
"x":{"field":"t","type":"quantitative","scale":{"domain":[0,1],"nice":false},"axis":{"orient":"bottom","values":[0,0.1,0.2,0.3,0.4,0.5,0.6,0.7,0.8,0.9,1],"format":"~g","title":"t","labelPadding":7,"titlePadding":1}},
"y":{"field":"y","type":"quantitative","scale":{"domain":[0,2500],"nice":false},"axis":{"orient":"left","values":[0,500,1000,1500,2000,2500],"format":"d","title":"f(t)","labelPadding":7,"titlePadding":3}},
"color":{"field":"g","type":"nominal","scale":{"domain":["Control","Autism"],"range":["#0072BD","#D95319"]},
"legend":{"title":null,"orient":"none","legendX":278,"legendY":7,"direction":"vertical","symbolType":"M-2,0H2","symbolSize":100,"symbolOffset":5,"symbolStrokeWidth":1,"labelFontSize":8,"labelColor":"#262626","labelOffset":9,"fillColor":"white","strokeColor":"#262626","padding":2,"rowPadding":1}},
"detail":{"field":"i","type":"nominal"}}},
{"mark":{"type":"line","opacity":0},
"encoding":{
"x":{"field":"t","type":"quantitative","axis":{"orient":"top","values":[0,0.1,0.2,0.3,0.4,0.5,0.6,0.7,0.8,0.9,1],"labels":false,"title":null}},
"y":{"field":"y","type":"quantitative","axis":{"orient":"right","values":[0,500,1000,1500,2000,2500],"labels":false,"title":null}},
"detail":{"field":"i","type":"nominal"}}}
]
}
